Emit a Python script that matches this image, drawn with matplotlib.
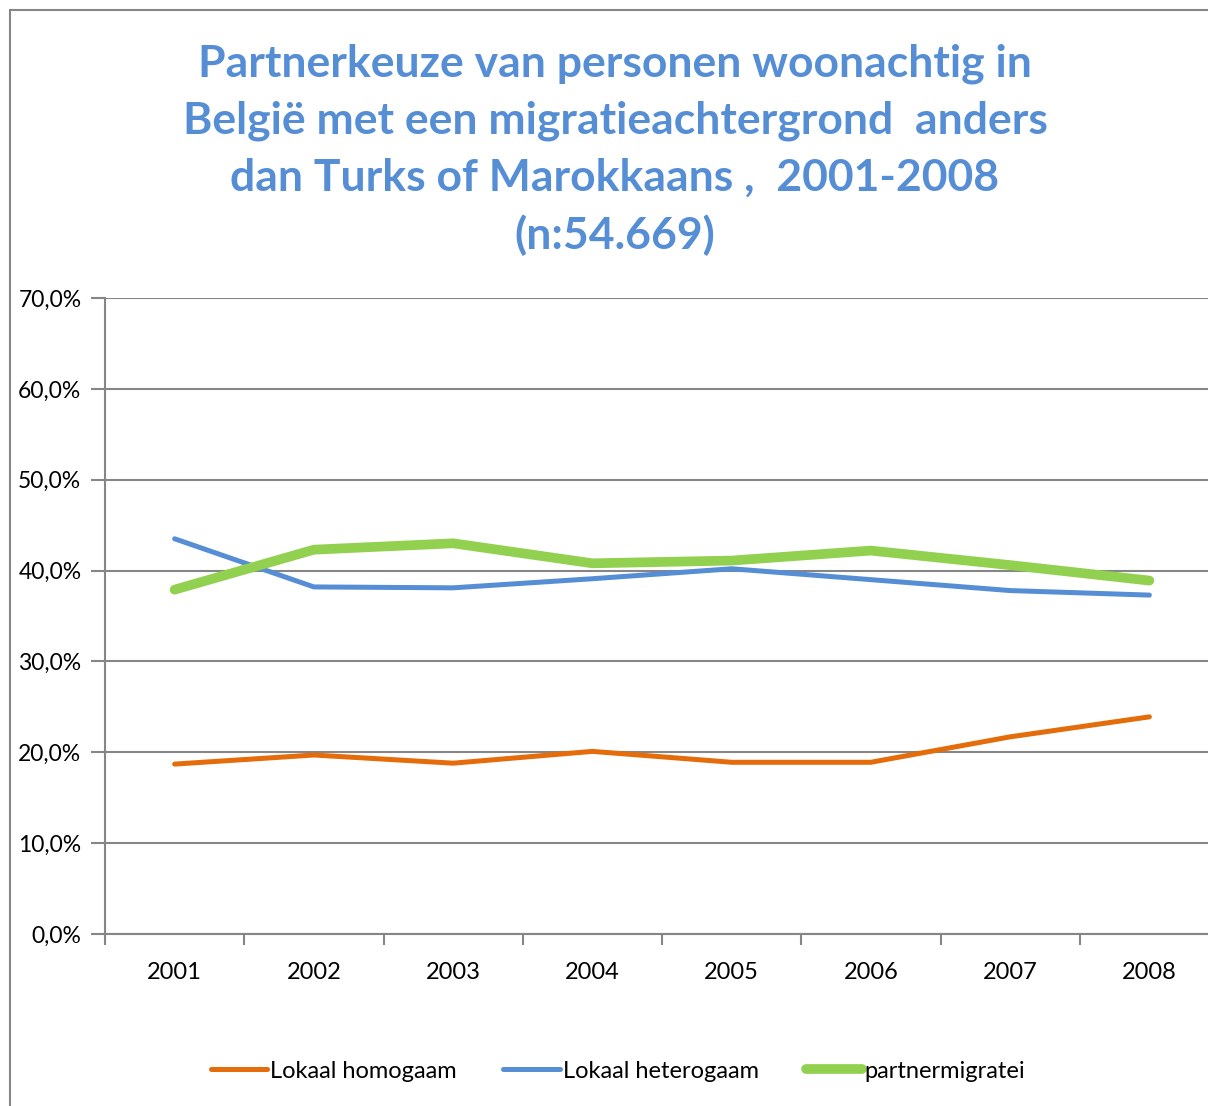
import numpy as np
import matplotlib as mpl
mpl.use('Agg')
import matplotlib.pyplot as plt
from matplotlib.lines import Line2D
from matplotlib.patches import Rectangle

years = ['2001', '2002', '2003', '2004', '2005', '2006', '2007', '2008']
homogaam = [18.7, 19.7, 18.8, 20.1, 18.9, 18.9, 21.7, 23.9]
heterogaam = [43.5, 38.2, 38.1, 39.1, 40.2, 39.0, 37.8, 37.3]
partnermigratie = [37.9, 42.3, 43.0, 40.8, 41.1, 42.2, 40.6, 38.9]
yticks = [0, 10, 20, 30, 40, 50, 60, 70]

plt.rcParams['font.family'] = ['Lato', 'DejaVu Sans']
W, H = 1208, 1106
fig = plt.figure(figsize=(W/100, H/100), dpi=100)

# chart frame (cropped on the right and bottom)
fig.patches.append(Rectangle((10/W, -0.1), 1.2, 1 - 10/H + 0.1, transform=fig.transFigure,
                             fill=False, edgecolor='#868686', linewidth=1.5))

ax = fig.add_axes([105/W, 1 - 934/H, (1219-105)/W, (934-298)/H])
x = np.arange(len(years))
ax.plot(x, homogaam, color='#E46C0A', linewidth=3.6, solid_capstyle='round', solid_joinstyle='round', zorder=3)
ax.plot(x, heterogaam, color='#558ED5', linewidth=3.6, solid_capstyle='round', solid_joinstyle='round', zorder=3)
ax.plot(x, partnermigratie, color='#92D050', linewidth=7, solid_capstyle='round', solid_joinstyle='round', zorder=3)

ax.set_xlim(-0.5, 7.5)
ax.set_ylim(0, 70)
ax.set_yticks(yticks)
ax.set_yticklabels(['%d,0%%' % v for v in yticks], fontsize=16.5)
ax.yaxis.grid(True, color='#868686', linewidth=1.5)
ax.set_axisbelow(True)
ax.set_xticks(x)
ax.set_xticklabels(years, fontsize=17)
ax.tick_params(axis='x', length=0, pad=20)
ax.set_xticks(np.arange(-0.5, 7.5, 1), minor=True)
ax.tick_params(axis='x', which='minor', length=8, width=1.5, color='#868686')
ax.tick_params(axis='y', length=10, width=1.5, color='#868686', pad=7)
for s in ['top', 'right']:
    ax.spines[s].set_visible(False)
ax.spines['left'].set_color('#868686')
ax.spines['left'].set_linewidth(1.5)
ax.spines['bottom'].set_color('#868686')
ax.spines['bottom'].set_linewidth(1.5)

fig.text(615/W, 1 - 150/H,
         'Partnerkeuze van personen woonachtig in\nBelgië met een migratieachtergrond  anders\ndan Turks of Marokkaans ,  2001-2008\n(n:54.669)',
         ha='center', va='center', fontsize=32, fontweight='bold', color='#558ED5', linespacing=1.5)

handles = [Line2D([], [], color='#E46C0A', linewidth=3.6, solid_capstyle='round'),
           Line2D([], [], color='#558ED5', linewidth=3.6, solid_capstyle='round'),
           Line2D([], [], color='#92D050', linewidth=7, solid_capstyle='round')]
fig.legend(handles, ['Lokaal homogaam', 'Lokaal heterogaam', 'partnermigratei'],
           loc='center', bbox_to_anchor=(618/W, 1 - 1071/H), ncol=3, frameon=False,
           fontsize=17, handlelength=2.4, handletextpad=0.1, columnspacing=2.0)

plt.savefig('out.png', dpi=100)
